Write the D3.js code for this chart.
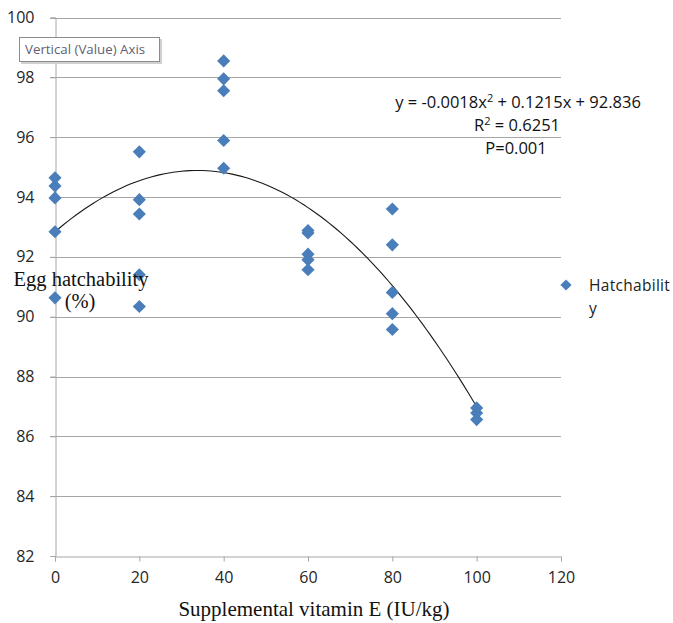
<!DOCTYPE html>
<html>
<head>
<meta charset="utf-8">
<script src="https://cdn.jsdelivr.net/npm/d3@7"></script>
<style>
  body { margin: 0; background: #fff; }
  svg { display: block; }
</style>
</head>
<body>
<div id="output"></div>
<script>
// Supplemental vitamin E levels (IU/kg) and hatchability readings (%)
var doseLevels = [0, 20, 40, 60, 80, 100];
var hatch0   = [94.64, 94.37, 93.97, 92.84, 90.63];
var hatch20  = [95.51, 93.91, 93.43, 91.40, 90.34];
var hatch40  = [98.55, 97.95, 97.55, 95.89, 94.96];
var hatch60  = [92.88, 92.80, 92.09, 91.90, 91.57];
var hatch80  = [93.60, 92.40, 90.81, 90.10, 89.57];
var hatch100 = [86.95, 86.78, 86.56];

// trendline coefficients as printed on the chart
var quadA = -0.0018, quadB = 0.1215, quadC = 92.836;

var xTicks = [0, 20, 40, 60, 80, 100, 120];
var yTicks = [82, 84, 86, 88, 90, 92, 94, 96, 98, 100];

var width = 673;
var height = 623;
var sans = 'Open Sans, Noto Sans, sans-serif';
var serif = 'Liberation Serif, Times New Roman, serif';

var groups = [hatch0, hatch20, hatch40, hatch60, hatch80, hatch100];
var points = [];
groups.forEach(function(g, i){
  g.forEach(function(v){ points.push({x: doseLevels[i], y: v}); });
});

var svg = d3.select('#output')
  .append('svg')
  .attr('width', width)
  .attr('height', height);

var xScale = d3.scaleLinear().domain([0, 120]).range([55, 561]);
var yScale = d3.scaleLinear().domain([82, 100]).range([556, 17.5]);

// gridlines
svg.append('g')
  .selectAll('line')
  .data(yTicks.filter(function(d){ return d > 82; }))
  .enter()
  .append('line')
  .attr('x1', 50)
  .attr('x2', xScale(120))
  .attr('y1', function(d){ return Math.round(yScale(d)) + 0.5; })
  .attr('y2', function(d){ return Math.round(yScale(d)) + 0.5; })
  .attr('stroke', '#a6a6a6')
  .attr('stroke-width', 1);

// x axis
var xAxis = d3.axisBottom(xScale).tickValues(xTicks).tickSize(5).tickPadding(10);
var gx = svg.append('g')
  .attr('transform', 'translate(0,' + (Math.round(yScale(82)) + 0.5) + ')')
  .call(xAxis);
gx.select('.domain').attr('stroke', '#a6a6a6');
gx.selectAll('.tick line').attr('stroke', '#a6a6a6');
gx.selectAll('.tick text')
  .attr('fill', '#262626')
  .style('font-family', sans)
  .style('font-size', '16px');

// y axis
var yAxis = d3.axisLeft(yScale).tickValues(yTicks).tickSize(5).tickPadding(16);
var gy = svg.append('g')
  .attr('transform', 'translate(' + (Math.round(xScale(0)) + 0.5) + ',0)')
  .call(yAxis);
gy.select('.domain').attr('stroke', '#a6a6a6');
gy.selectAll('.tick line').attr('stroke', '#a6a6a6');
gy.selectAll('.tick text')
  .attr('fill', '#262626')
  .style('font-family', sans)
  .style('font-size', '16px');

// trendline
var curve = d3.range(0, 100.5, 1).map(function(x){
  return [x, quadA * x * x + quadB * x + quadC];
});
var line = d3.line()
  .x(function(d){ return xScale(d[0]); })
  .y(function(d){ return yScale(d[1]); });
svg.append('path')
  .datum(curve)
  .attr('d', line)
  .attr('fill', 'none')
  .attr('stroke', '#1a1a1a')
  .attr('stroke-width', 1.1);

// points
var diamond = d3.symbol().type(d3.symbolDiamond2).size(110);
svg.append('g')
  .selectAll('path')
  .data(points)
  .enter()
  .append('path')
  .attr('d', diamond)
  .attr('transform', function(d){ return 'translate(' + xScale(d.x) + ',' + yScale(d.y) + ')'; })
  .attr('fill', '#4a7ebb');

// equation
var eq = svg.append('text')
  .attr('text-anchor', 'middle')
  .attr('fill', '#111')
  .style('font-family', sans)
  .style('font-size', '16.5px');
var l1 = eq.append('tspan').attr('x', 518).attr('y', 108);
l1.append('tspan').text('y = -0.0018x');
l1.append('tspan').attr('dy', -6).style('font-size', '11px').text('2');
l1.append('tspan').attr('dy', 6).text(' + 0.1215x + 92.836');
var l2 = eq.append('tspan').attr('x', 517).attr('y', 131);
l2.append('tspan').text('R');
l2.append('tspan').attr('dy', -6).style('font-size', '11px').text('2');
l2.append('tspan').attr('dy', 6).text(' = 0.6251');
eq.append('tspan').attr('x', 516).attr('y', 154).text('P=0.001');

// axis titles
svg.append('text')
  .attr('x', 81).attr('y', 286)
  .attr('text-anchor', 'middle')
  .style('font-family', serif)
  .style('font-size', '20.5px')
  .attr('fill', '#111')
  .text('Egg hatchability');
svg.append('text')
  .attr('x', 80).attr('y', 308)
  .attr('text-anchor', 'middle')
  .style('font-family', serif)
  .style('font-size', '20.5px')
  .attr('fill', '#111')
  .text('(%)');
svg.append('text')
  .attr('x', 314).attr('y', 616)
  .attr('text-anchor', 'middle')
  .style('font-family', serif)
  .style('font-size', '21px')
  .attr('fill', '#111')
  .text('Supplemental vitamin E (IU/kg)');

// legend
svg.append('path')
  .attr('d', d3.symbol().type(d3.symbolDiamond2).size(80))
  .attr('transform', 'translate(566,285)')
  .attr('fill', '#4a7ebb');
var leg = svg.append('text')
  .attr('fill', '#222')
  .style('font-family', sans)
  .style('font-size', '15.5px')
  .style('letter-spacing', '0.3px');
leg.append('tspan').attr('x', 589).attr('y', 291).text('Hatchabilit');
leg.append('tspan').attr('x', 589).attr('y', 314).text('y');

// tooltip box
var tip = svg.append('g').attr('transform', 'translate(19,37)');
tip.append('rect')
  .attr('x', 2).attr('y', 2)
  .attr('width', 141).attr('height', 25)
  .attr('fill', '#d0d0d0');
tip.append('rect')
  .attr('x', 0.5).attr('y', 0.5)
  .attr('width', 140).attr('height', 24)
  .attr('fill', '#fff')
  .attr('stroke', '#8c8c8c');
tip.append('text')
  .attr('x', 6).attr('y', 17)
  .attr('fill', '#5f5f72')
  .style('font-family', sans)
  .style('font-size', '13.3px')
  .text('Vertical (Value) Axis');
</script>
</body>
</html>
